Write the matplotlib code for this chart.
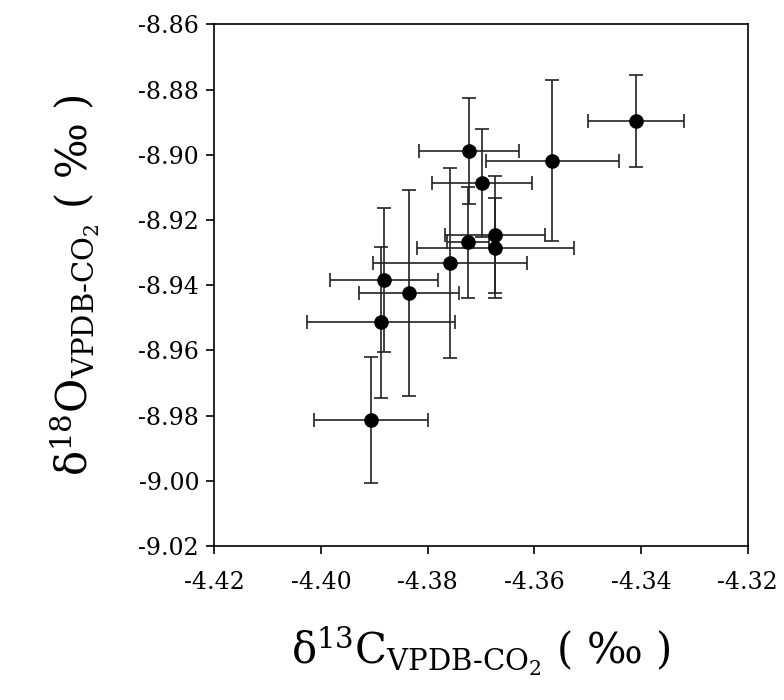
import matplotlib
matplotlib.use('Agg')
import matplotlib.pyplot as plt
import numpy as np

plt.rcParams['font.family'] = ['DejaVu Serif']
plt.rcParams['mathtext.fontset'] = 'dejavuserif'

# d13C and d18O of CO2 (per mil), with error estimates
d13c = [-4.3409, -4.3566, -4.3723, -4.3698, -4.3673, -4.3673,
        -4.3724, -4.3758, -4.3882, -4.3887, -4.3835, -4.3906]
d18o = [-8.8897, -8.9018, -8.8989, -8.9087, -8.9245, -8.9287,
        -8.9269, -8.9332, -8.9384, -8.9514, -8.9425, -8.9814]
d13c_err = [0.0090, 0.0124, 0.0094, 0.0094, 0.0094, 0.0147,
            0.0039, 0.0145, 0.0102, 0.0139, 0.0094, 0.0107]
d18o_err = [0.0140, 0.0247, 0.0163, 0.0166, 0.0179, 0.0153,
            0.0170, 0.0291, 0.0222, 0.0232, 0.0316, 0.0193]

x_ticks = np.arange(-4.42, -4.319, 0.02)
y_ticks = np.arange(-9.02, -8.859, 0.02)

fig = plt.figure(figsize=(7.84, 7.0), dpi=100)
ax = fig.add_axes([0.2735, 0.22, 0.680, 0.7453])

ax.errorbar(d13c, d18o, xerr=d13c_err, yerr=d18o_err, fmt='o', color='black',
            ecolor='#222222', elinewidth=1.2, capsize=5, capthick=1.2,
            markersize=9.5)

ax.set_xlim(-4.42, -4.32)
ax.set_ylim(-9.02, -8.86)
ax.set_xticks(x_ticks)
ax.set_yticks(y_ticks)
ax.set_xticklabels(['%.2f' % v for v in x_ticks])
ax.set_yticklabels(['%.2f' % v for v in y_ticks])

ax.tick_params(axis='both', direction='out', length=6, width=1.2, labelsize=17)
ax.tick_params(axis='x', pad=12)
ax.tick_params(axis='y', pad=5)
for sp in ax.spines.values():
    sp.set_linewidth(1.2)
    sp.set_color('black')

ax.set_xlabel('δ$^{13}$C$_{\\mathrm{VPDB\\text{-}CO_2}}$ ( ‰ )', fontsize=30, labelpad=22)
ax.set_ylabel('δ$^{18}$O$_{\\mathrm{VPDB\\text{-}CO_2}}$ ( ‰ )', fontsize=30, labelpad=26)

fig.savefig('out.png', dpi=100)
